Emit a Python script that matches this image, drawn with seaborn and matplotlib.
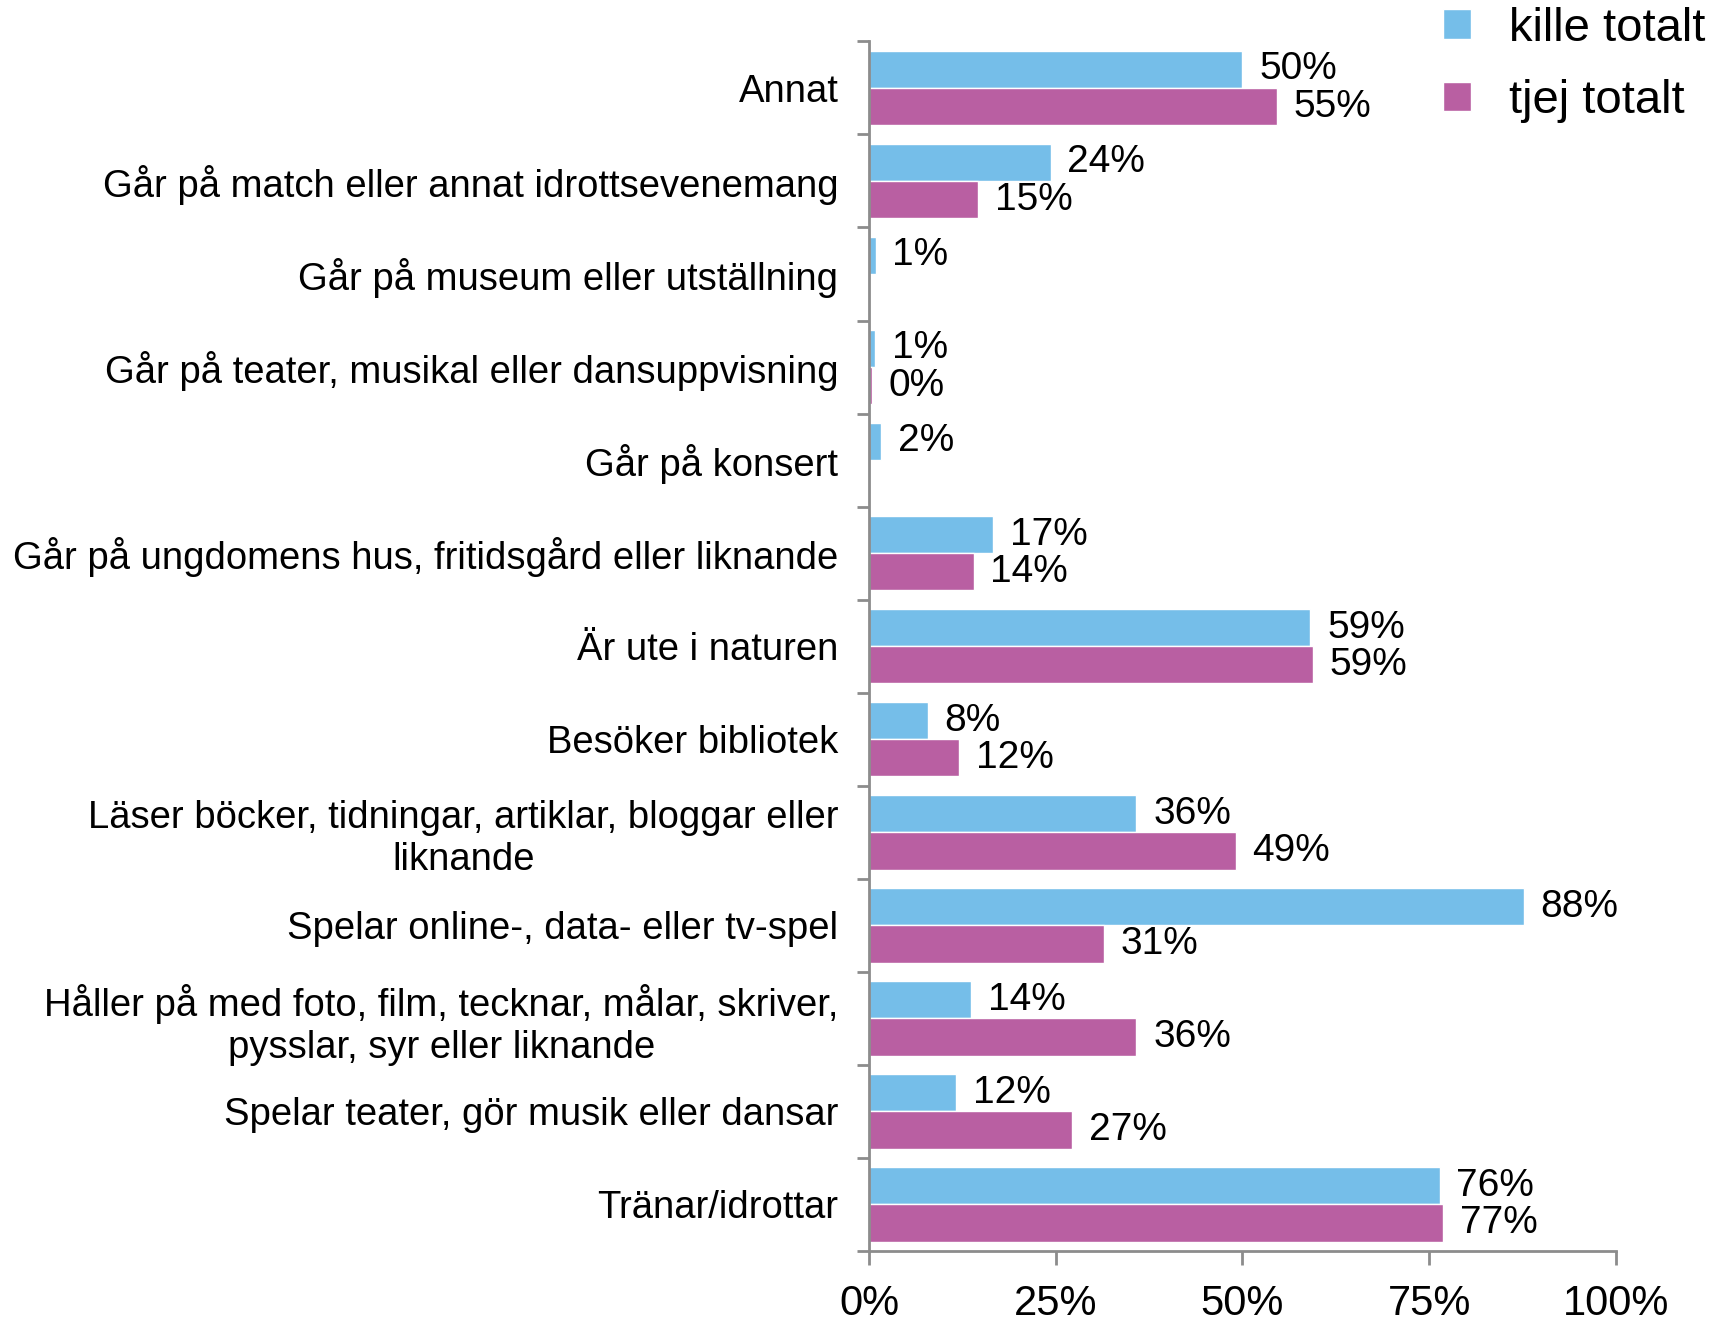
import numpy as np
import pandas as pd
import seaborn as sns
import matplotlib.pyplot as plt

# categories, top to bottom
categories = [
    "Annat",
    "Går på match eller annat idrottsevenemang",
    "Går på museum eller utställning",
    "Går på teater, musikal eller dansuppvisning",
    "Går på konsert",
    "Går på ungdomens hus, fritidsgård eller liknande",
    "Är ute i naturen",
    "Besöker bibliotek",
    "Läser böcker, tidningar, artiklar, bloggar eller\nliknande",
    "Spelar online-, data- eller tv-spel",
    "Håller på med foto, film, tecknar, målar, skriver,\npysslar, syr eller liknande",
    "Spelar teater, gör musik eller dansar",
    "Tränar/idrottar",
]
kille = [50.0, 24.3, 0.9, 0.8, 1.6, 16.6, 59.1, 7.9, 35.8, 87.7, 13.7, 11.7, 76.4]
tjej = [54.6, 14.6, np.nan, 0.4, np.nan, 14.0, 59.4, 12.1, 49.1, 31.4, 35.8, 27.2, 76.9]
series = ["kille totalt", "tjej totalt"]
colors = ["#75BEE9", "#B95FA2"]
xticks = [0, 25, 50, 75, 100]

df = pd.DataFrame({
    "kategori": categories * 2,
    "grupp": [series[0]] * len(categories) + [series[1]] * len(categories),
    "andel": kille + tjej,
}).dropna()

sns.set_style("white")
plt.rcParams["font.family"] = ["Liberation Sans", "DejaVu Sans"]
plt.rcParams["text.color"] = "black"
plt.rcParams["xtick.color"] = "black"
plt.rcParams["ytick.color"] = "black"

fig = plt.figure(figsize=(17.12, 13.22), dpi=100)
ax = fig.add_axes([0.5076, 0.0537, 0.4363, 0.915])

sns.barplot(data=df, y="kategori", x="andel", hue="grupp", orient="h",
            order=categories, hue_order=series,
            palette=colors, width=0.8, ax=ax, legend=True, saturation=1)

for cont, name in zip(ax.containers, series):
    vals = df.loc[df["grupp"] == name, "andel"]
    labels = [f"{int(v + 0.5):d}%" for v in vals]
    ax.bar_label(cont, labels=labels, padding=12, fontsize=28, color="black")

ax.set_xlim(0, 100)
ax.set_ylim(len(categories) - 0.5, -0.5)
ax.set_xticks(xticks)
ax.set_xticklabels([f"{t}%" for t in xticks], fontsize=30)
ax.set_xlabel("")
ax.set_ylabel("")

ax.tick_params(axis="y", which="major", length=0, labelsize=27.5, pad=22)
ax.set_yticks(np.arange(-0.5, len(categories), 1), minor=True)
ax.tick_params(axis="y", which="minor", length=9, width=2, color="#8c8c8c", left=True)
ax.tick_params(axis="x", length=10, width=2, color="#8c8c8c", labelcolor="black",
               bottom=True, pad=14)
for t in ax.get_yticklabels():
    t.set_multialignment("center")

sns.despine(ax=ax, top=True, right=True)
for s in ["left", "bottom"]:
    ax.spines[s].set_color("#8c8c8c")
    ax.spines[s].set_linewidth(2)

handles, labels = ax.get_legend_handles_labels()
ax.get_legend().remove()
fig.legend(handles, labels, loc="upper right", bbox_to_anchor=(1.021, 1.027),
           frameon=False, fontsize=34, handlelength=0.6, handleheight=0.6,
           handletextpad=0.8, labelspacing=0.6)

fig.savefig("out.png", dpi=100)
